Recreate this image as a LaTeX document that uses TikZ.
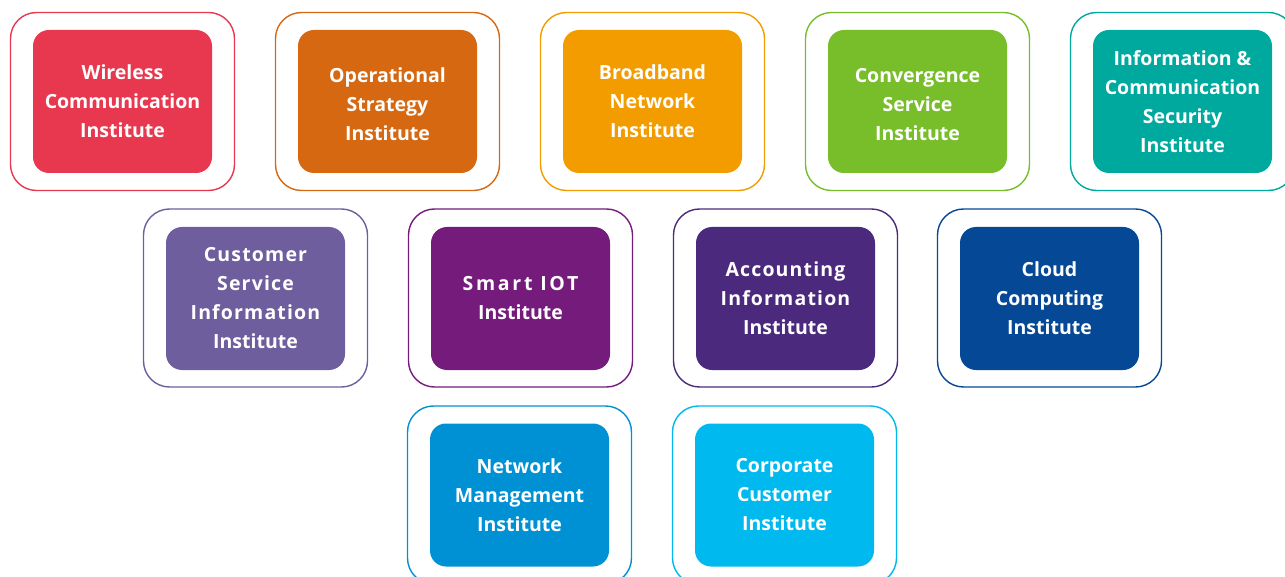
\documentclass[tikz,border=0pt]{standalone}
\usepackage{fontspec}
\setmainfont{Open Sans}
\usepackage{tikz}

\definecolor{wireless}{HTML}{E8384F}
\definecolor{operational}{HTML}{D66811}
\definecolor{broadband}{HTML}{F39C00}
\definecolor{convergence}{HTML}{78BE2A}
\definecolor{security}{HTML}{00A99D}
\definecolor{customer}{HTML}{6E5E9E}
\definecolor{smartiot}{HTML}{751B7B}
\definecolor{accounting}{HTML}{4B2A7E}
\definecolor{cloud}{HTML}{044896}
\definecolor{netmgmt}{HTML}{0091D4}
\definecolor{corporate}{HTML}{00B9EE}

\newcommand{\spaced}[2][6]{{\addfontfeature{LetterSpace=#1}#2}}

\tikzset{
  inst/.style={fill=#1, text=white, rounded corners=16pt, minimum width=179pt, minimum height=143pt,
    inner sep=0pt, align=center, font=\bfseries\fontsize{19.5}{29}\selectfont},
  frame/.style={draw=#1, line width=1.4pt, rounded corners=26pt, minimum width=224pt, minimum height=178pt, inner sep=0pt},
}

\begin{document}
\begin{tikzpicture}[x=1pt,y=-1pt]
\useasboundingbox (0,0) rectangle (1285,577);
% first row
\node[frame=wireless] (wirelessf) at (122.5,101.5) {};
\node[inst=wireless] (wireless) at (122.5,101.5) {Wireless\\Communication\\Institute};
\node[frame=operational] (operationalf) at (387.5,101.5) {};
\node[inst=operational] (operational) at (387.5,101.5) {\rule{0pt}{21pt}Operational\\Strategy\\Institute};
\node[frame=broadband] (broadbandf) at (652.5,101.5) {};
\node[inst=broadband] (broadband) at (652.5,101.5) {Broadband\\Network\\Institute};
\node[frame=convergence] (convergencef) at (917.5,101.5) {};
\node[inst=convergence] (convergence) at (917.5,101.5) {\rule{0pt}{21pt}Convergence\\Service\\Institute};
\node[frame=security] (securityf) at (1182.5,101.5) {};
\node[inst=security] (security) at (1182.5,101.5) {Information \&\\Communication\\Security\\Institute};
% second row
\node[frame=customer] (customerf) at (255.5,298) {};
\node[inst=customer] (customer) at (255.5,298.5) {\spaced{Customer}\\\spaced{Service}\\\spaced{Information}\\Institute};
\node[frame=smartiot] (smartiotf) at (520.5,298) {};
\node[inst=smartiot] (smartiot) at (520.5,298.5) {\spaced[14]{Smart IOT}\\Institute};
\node[frame=accounting] (accountingf) at (785.5,298) {};
\node[inst=accounting] (accounting) at (785.5,298.5) {\spaced{Accounting}\\\spaced{Information}\\Institute};
\node[frame=cloud] (cloudf) at (1049.5,298) {};
\node[inst=cloud] (cloud) at (1049.5,298.5) {Cloud\\Computing\\Institute};
% third row
\node[frame=netmgmt] (netmgmtf) at (519.5,495) {};
\node[inst=netmgmt] (netmgmt) at (519.5,495) {Network\\Management\\Institute};
\node[frame=corporate] (corporatef) at (784.5,495) {};
\node[inst=corporate] (corporate) at (784.5,495) {Corporate\\Customer\\Institute};
\end{tikzpicture}
\end{document}
